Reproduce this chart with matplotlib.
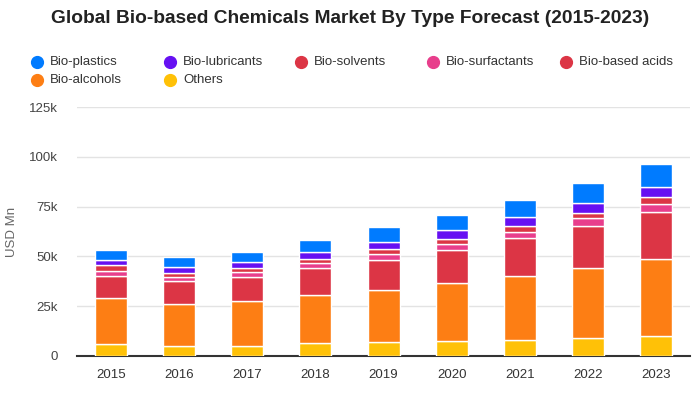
import matplotlib.pyplot as plt
from matplotlib.lines import Line2D
from matplotlib.ticker import FuncFormatter

plt.rcParams['font.family'] = ['Liberation Sans', 'DejaVu Sans']

years = ['2015', '2016', '2017', '2018', '2019', '2020', '2021', '2022', '2023']

# values in USD Mn, stacked bottom -> top
others = [5800, 5200, 5200, 6300, 6800, 7300, 7800, 8800, 9800]
bio_alcohols = [23300, 21100, 22500, 24500, 26500, 29500, 32400, 35500, 39000]
bio_based_acids = [11200, 11400, 12000, 13400, 15000, 16500, 19000, 21000, 23500]
bio_surfactants = [2500, 2000, 2500, 2600, 3000, 3000, 3100, 3900, 4000]
bio_solvents = [2700, 2100, 2100, 2000, 2500, 2500, 3000, 2500, 3500]
bio_lubricants = [2700, 3000, 3000, 3500, 3500, 4400, 4500, 5100, 5000]
bio_plastics = [5200, 5100, 5100, 6000, 7300, 7800, 8700, 10100, 11700]

stack = [
    ('Others', others, '#ffc107'),
    ('Bio-alcohols', bio_alcohols, '#fd7e14'),
    ('Bio-based acids', bio_based_acids, '#dc3545'),
    ('Bio-surfactants', bio_surfactants, '#e83e8c'),
    ('Bio-solvents', bio_solvents, '#dc3545'),
    ('Bio-lubricants', bio_lubricants, '#6610f2'),
    ('Bio-plastics', bio_plastics, '#007bff'),
]

fig = plt.figure(figsize=(7, 4), dpi=100)
ax = fig.add_axes([0.11, 0.11, 0.876, 0.6225])

x = range(len(years))
bottom = [0] * len(years)
colors = {}
for name, vals, col in stack:
    ax.bar(x, vals, bottom=bottom, width=0.47, color=col,
           edgecolor='white', linewidth=1, zorder=3)
    colors[name] = col
    bottom = [a + v for a, v in zip(bottom, vals)]

ax.set_xlim(-0.5, len(years) - 0.5)
ax.set_ylim(0, 125000)
ax.set_yticks(range(0, 125001, 25000))
ax.yaxis.set_major_formatter(FuncFormatter(lambda v, p: '0' if v == 0 else f'{int(v/1000)}k'))
ax.set_xticks(list(x))
ax.set_xticklabels(years)
ax.grid(axis='y', color='#e3e3e3', linewidth=1, zorder=0)
for s in ['top', 'right', 'left']:
    ax.spines[s].set_visible(False)
ax.spines['bottom'].set_color('#333333')
ax.spines['bottom'].set_linewidth(1.5)
ax.tick_params(axis='y', length=0, pad=14, labelsize=9.5, labelcolor='#444444')
ax.tick_params(axis='x', length=0, pad=9, labelsize=9.5, labelcolor='#333333')
ax.set_ylabel('USD Mn', fontsize=9.5, color='#666666', labelpad=8)

fig.text(0.5, 0.953, 'Global Bio-based Chemicals Market By Type Forecast (2015-2023)',
         ha='center', va='center', fontsize=13.8, fontweight='bold', color='#222222')

# legend laid out in two rows like the reference
legend_order = ['Bio-plastics', 'Bio-lubricants', 'Bio-solvents', 'Bio-surfactants',
                'Bio-based acids', 'Bio-alcohols', 'Others']
col_x = [37, 170, 301, 433, 566]
row_y = [62, 80]
for i, name in enumerate(legend_order):
    px = col_x[i % 5]
    py = row_y[i // 5]
    fig.add_artist(Line2D([px / 700], [1 - py / 400], marker='o', markersize=8.5,
                          color=colors[name], linestyle='none',
                          transform=fig.transFigure))
    fig.text((px + 13) / 700, 1 - py / 400, name, ha='left', va='center',
             fontsize=9.5, color='#333333')

fig.savefig('out.png', dpi=100)
